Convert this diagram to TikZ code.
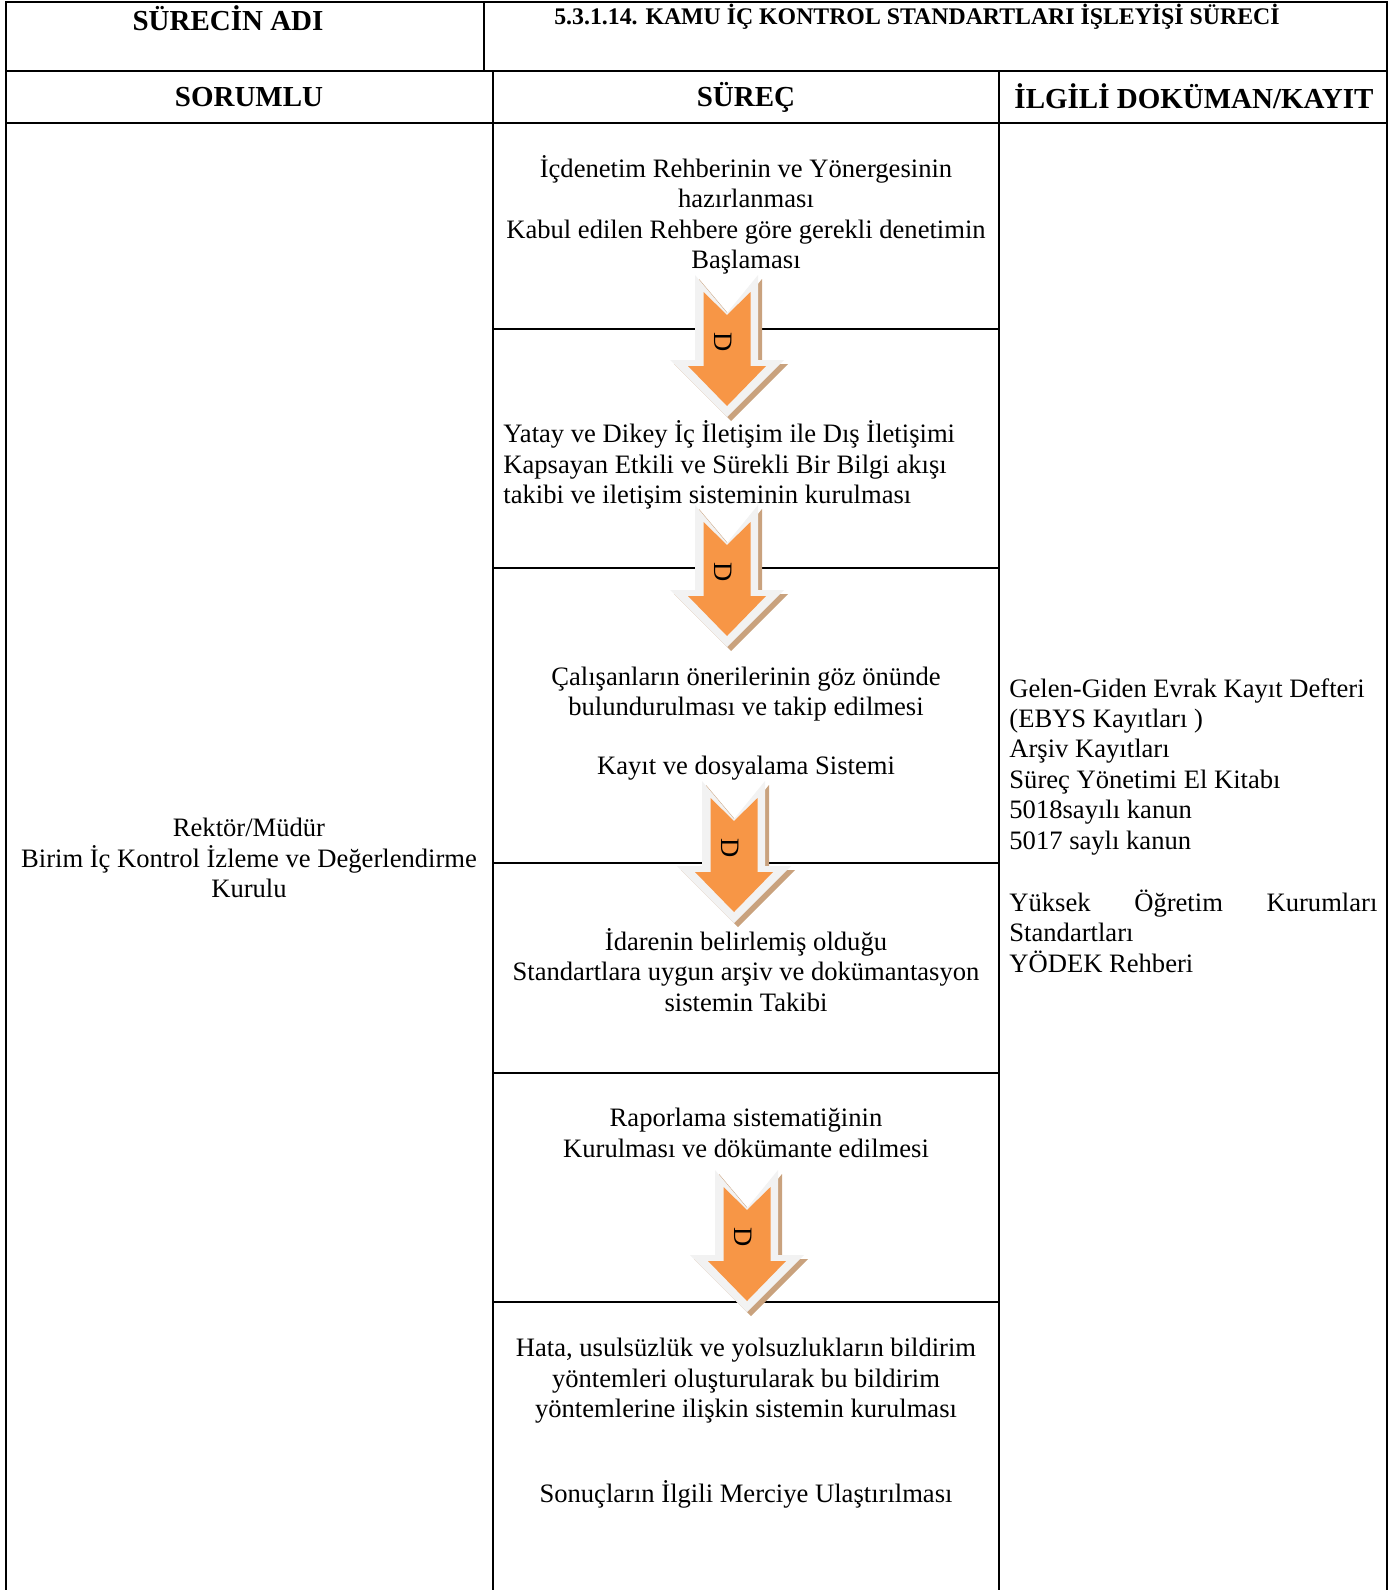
\documentclass[tikz,border=0pt]{standalone}
\usepackage{fontspec}
\setmainfont{Liberation Serif}
\usepackage{tikz}
\usetikzlibrary{positioning}
\usepackage{xcolor}
\definecolor{arroworange}{HTML}{F79646}
\definecolor{arrowrim}{HTML}{F2F2F2}
\definecolor{arrowshade}{HTML}{C9A27E}

\tikzset{
  flowarrow/.pic={
    \fill[arrowshade, shift={(4,4)}] (-32,0) -- (0,38) -- (31,0) -- (31,85)
      -- (57,85) -- (0,142) -- (-57,85) -- (-32,85) -- cycle;
    \fill[arrowrim] (-32,0) -- (0,38) -- (31,0) -- (31,85)
      -- (57,85) -- (0,142) -- (-57,85) -- (-32,85) -- cycle;
    \fill[arroworange] (-23.5,17) -- (0,40) -- (23.5,17) -- (23.5,91)
      -- (39,91) -- (0,131) -- (-39,91) -- (-23.5,91) -- cycle;
    \node[rotate=-90, inner sep=0pt, font=\body] (-lbl) at (-4,67) {D};
  }
}
\newcommand{\body}{\fontsize{13.3pt}{15.2pt}\selectfont}

\begin{document}
\begin{tikzpicture}[
  x=0.5pt, y=-0.5pt,
  rule/.style={line width=1pt},
  thinrule/.style={line width=0.75pt},
  head/.style={font=\fontsize{14.5pt}{17pt}\selectfont\bfseries, inner sep=0pt},
  title/.style={font=\fontsize{11.9pt}{14pt}\selectfont\bfseries, inner sep=0pt},
  txt/.style={font=\body, align=center, inner sep=0pt},
  doc/.style={font=\body, align=left, inner sep=0pt}
]
  \useasboundingbox (0,0) rectangle (1400,1590);

  % Header rows
  \draw[rule] (6,1590) -- (6,2) -- (1387,2) -- (1387,1590);
  \draw[line width=1.3pt] (6,71) -- (1387,71);
  \draw[rule] (484,2) -- (484,71);
  \draw[rule] (6,123) -- (1387,123);
  \draw[rule] (493,71) -- (493,1590);
  \draw[rule] (999,71) -- (999,1590);

  \node[head] (name) at (228,18) {SÜRECİN ADI};
  \node[title] (proc) at (917,17)
    {5.3.1.14. KAMU İÇ KONTROL STANDARTLARI İŞLEYİŞİ SÜRECİ};
  \node[head] (resp) at (249,97) {SORUMLU};
  \node[head] (flow) at (746,97) {SÜREÇ};
  \node[head] (docs) at (1194,96) {İLGİLİ DOKÜMAN/KAYIT};

  % Step separators
  \foreach \y in {329, 568, 863, 1073, 1302}
    \draw[thinrule] (493,\y) -- (999,\y);

  % Steps
  \node[txt] (s1) at (746,215) {İçdenetim Rehberinin ve Yönergesinin\\
    hazırlanması\\Kabul edilen Rehbere göre gerekli denetimin\\Başlaması};
  \node[txt, align=left, anchor=west] (s2) at (503,465)
    {Yatay ve Dikey İç İletişim ile Dış İletişimi\\
    Kapsayan Etkili ve Sürekli Bir Bilgi akışı\\
    takibi ve iletişim sisteminin kurulması};
  \node[txt] (s3a) at (746,694) {Çalışanların önerilerinin göz önünde\\
    bulundurulması ve takip edilmesi};
  \node[txt] (s3b) at (746,768) {Kayıt ve dosyalama Sistemi};
  \node[txt] (s4) at (746,970) {İdarenin belirlemiş olduğu\\
    Standartlara uygun arşiv ve dokümantasyon\\sistemin Takibi};
  \node[txt] (s5) at (746,1133) {Raporlama sistematiğinin\\
    Kurulması ve dökümante edilmesi};
  \node[txt] (s6) at (746,1381) {Hata, usulsüzlük ve yolsuzlukların bildirim\\
    yöntemleri oluşturularak bu bildirim\\
    yöntemlerine ilişkin sistemin kurulması};
  \node[txt] (s7) at (746,1494) {Sonuçların İlgili Merciye Ulaştırılması};

  % Arrows between steps
  \pic (a1) at (727,275) {flowarrow};
  \pic (a2) at (727,505) {flowarrow};
  \pic (a3) at (734,781) {flowarrow};
  \pic (a4) at (747,1170) {flowarrow};

  % Responsible
  \node[txt] (unit) at (249,858) {Rektör/Müdür\\
    Birim İç Kontrol İzleme ve Değerlendirme\\Kurulu};

  % Documents
  \node[doc, anchor=north west] (reg) at (1009,678)
    {Gelen-Giden Evrak Kayıt Defteri\\(EBYS Kayıtları )\\Arşiv Kayıtları\\
    Süreç Yönetimi El Kitabı\\5018sayılı kanun\\5017 saylı kanun\\[16pt]
    \makebox[184pt][s]{Yüksek Öğretim Kurumları}\\Standartları\\YÖDEK Rehberi};
\end{tikzpicture}
\end{document}
